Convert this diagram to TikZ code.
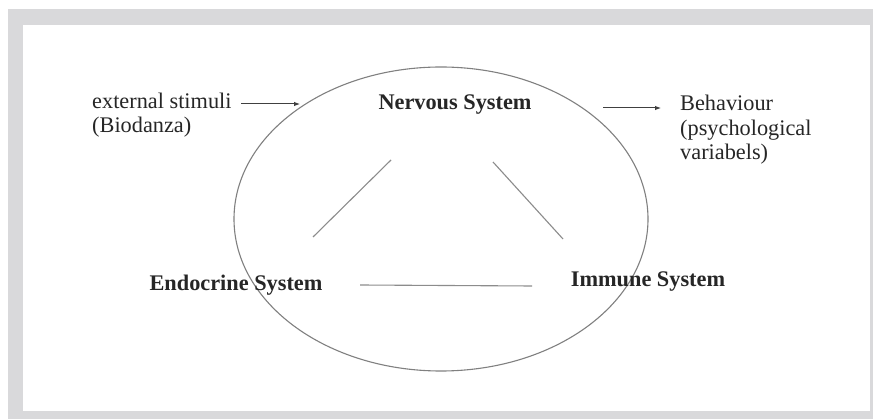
\documentclass[tikz,border=0pt]{standalone}
\usepackage{fontspec}
\setmainfont{Liberation Serif}
\usetikzlibrary{arrows.meta}
\definecolor{framegray}{RGB}{217,217,219}
\begin{document}
\begin{tikzpicture}[x=1pt,y=-1pt,>={Latex[length=6pt,width=4.5pt]},
  txt/.style={inner sep=0pt,text=black!85,font=\fontsize{22.3}{23.5}\selectfont},
  sys/.style={txt,font=\fontsize{22.3}{23.5}\selectfont\bfseries},
  link/.style={black!45,line width=1.1pt},
  flow/.style={->,black!75,line width=1pt}]
  \useasboundingbox (0,0) rectangle (873,419);
  % rahmen
  \fill[framegray] (8,9) rectangle (873,419);
  \fill[white] (23,25) rectangle (870,411);
  % koerper
  \draw[black!50,line width=1.1pt] (441,219) ellipse [x radius=207,y radius=152];
  % systeme
  \node[sys] (nerv) at (455,105) {Nervous System};
  \node[sys] (endo) at (236,285) {Endocrine System};
  \node[sys] (immun) at (648,282) {Immune System};
  % ein- und ausgang
  \node[txt,align=left,anchor=west] (reiz) at (92,115) {external stimuli\\(Biodanza)};
  \node[txt,align=left,anchor=west,font=\fontsize{22.3}{24.5}\selectfont] (verh) at (680,130) {Behaviour\\(psychological\\variabels)};
  % verbindungen
  \coordinate (en1) at (313,237); \coordinate (en2) at (391,160);
  \coordinate (ni1) at (493,162); \coordinate (ni2) at (563,239);
  \coordinate (ei1) at (360,285); \coordinate (ei2) at (532,286);
  \draw[link] (en1)--(en2);
  \draw[link] (ni1)--(ni2);
  \draw[link] (ei1)--(ei2);
  % pfeile
  \coordinate (rein) at (241,104); \coordinate (rziel) at (300,104);
  \coordinate (vaus) at (603,108); \coordinate (vziel) at (661,108);
  \draw[flow] (rein)--(rziel);
  \draw[flow] (vaus)--(vziel);
\end{tikzpicture}
\end{document}
